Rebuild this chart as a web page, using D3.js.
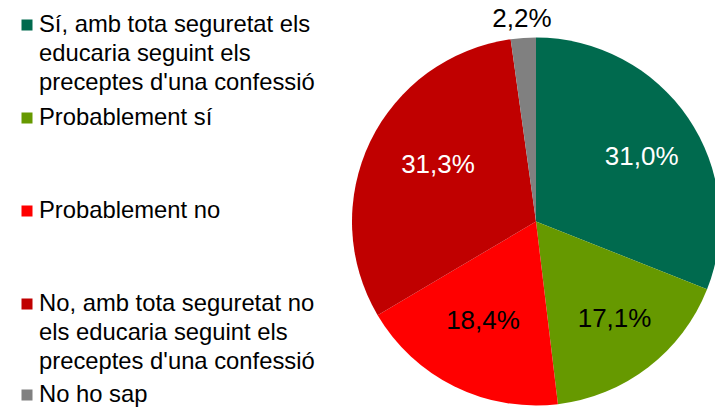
<!DOCTYPE html>
<html>
<head>
<meta charset="utf-8">
<script src="https://cdn.jsdelivr.net/npm/d3@7"></script>
<style>
  html, body { margin: 0; padding: 0; background: #fff; }
  svg { display: block; }
</style>
</head>
<body>
<svg id="chart" width="715" height="408"></svg>
<script>
const categories = [
  "Sí, amb tota seguretat els educaria seguint els preceptes d'una confessió",
  "Probablement sí",
  "Probablement no",
  "No, amb tota seguretat no els educaria seguint els preceptes d'una confessió",
  "No ho sap"
];
const legendLines = [
  ["Sí, amb tota seguretat els", "educaria seguint els", "preceptes d'una confessió"],
  ["Probablement sí"],
  ["Probablement no"],
  ["No, amb tota seguretat no", "els educaria seguint els", "preceptes d'una confessió"],
  ["No ho sap"]
];
const values = [31.0, 17.1, 18.4, 31.3, 2.2];
const valueLabels = ["31,0%", "17,1%", "18,4%", "31,3%", "2,2%"];
const colors = ["#006A4E", "#669900", "#FF0000", "#C00000", "#808080"];
const labelColors = ["#fff", "#000", "#000", "#fff", "#000"];
const outsideLabel = [false, false, false, false, true];
// small layout nudges for label placement (pixels)
const labelNudge = [[7.3, 0.9], [5.9, 2.4], [-0.3, -8.5], [9.2, -5.8], [0, -1.5]];

const svg = d3.select("#chart");
const cx = 536, cy = 221.5, R = 184;
const font = "'Liberation Sans', Arial, sans-serif";

const data = categories.map((c, i) => ({ cat: c, value: values[i], i }));
const pie = d3.pie().sort(null).value(d => d.value);
const arcs = pie(data);
const arc = d3.arc().innerRadius(0).outerRadius(R);
const labelArc = d3.arc().innerRadius(119).outerRadius(119);
const outArc = d3.arc().innerRadius(203).outerRadius(203);

const g = svg.append("g").attr("transform", `translate(${cx},${cy})`);
g.selectAll("path.slice").data(arcs).enter().append("path")
  .attr("class", "slice")
  .attr("d", arc)
  .attr("fill", d => colors[d.data.i]);

g.selectAll("text.lbl").data(arcs).enter().append("text")
  .attr("class", "lbl")
  .attr("transform", d => {
    const p = outsideLabel[d.data.i] ? outArc.centroid(d) : labelArc.centroid(d);
    const n = labelNudge[d.data.i];
    return `translate(${p[0] + n[0]},${p[1] + n[1]})`;
  })
  .attr("text-anchor", "middle")
  .attr("dy", "0.35em")
  .attr("font-family", font)
  .attr("font-size", 26)
  .attr("fill", d => labelColors[d.data.i])
  .text(d => valueLabels[d.data.i]);

// Legend
const entryY = [32, 125, 218, 311, 402];
const lineH = 29;
const leg = svg.append("g");
legendLines.forEach((lines, i) => {
  leg.append("rect")
    .attr("x", 21.5).attr("y", entryY[i] - 12.5)
    .attr("width", 11).attr("height", 11)
    .attr("fill", colors[i]);
  const t = leg.append("text")
    .attr("x", 39).attr("y", entryY[i])
    .attr("font-family", font)
    .attr("font-size", 23.8)
    .attr("fill", "#000");
  lines.forEach((ln, j) => {
    t.append("tspan").attr("x", 39).attr("y", entryY[i] + j * lineH).text(ln);
  });
});
</script>
</body>
</html>
